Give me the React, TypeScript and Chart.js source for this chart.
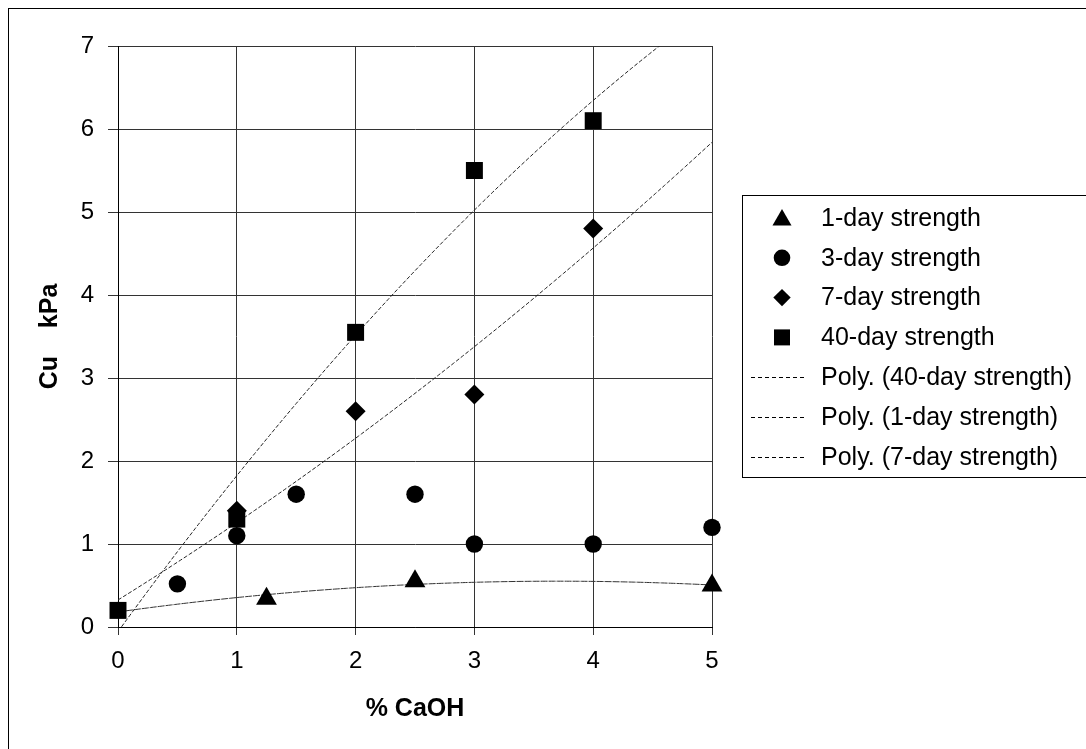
import React, { useEffect, useRef } from 'react';
import { Chart, registerables } from 'chart.js';

Chart.register(...registerables);

const X_MIN = 0;
const X_MAX = 5;
const Y_MIN = 0;
const Y_MAX = 7;
const X_TITLE = '% CaOH';
const Y_TITLE = 'Cu    kPa';

// 1-day strength
const day1X = [0, 1.25, 2.5, 5];
const day1Y = [0.2, 0.34, 0.55, 0.5];
// 3-day strength
const day3X = [0.5, 1, 1.5, 2.5, 3, 4, 5];
const day3Y = [0.52, 1.1, 1.6, 1.6, 1.0, 1.0, 1.2];
// 7-day strength
const day7X = [0, 1, 2, 3, 4];
const day7Y = [0.2, 1.4, 2.6, 2.8, 4.8];
// 40-day strength
const day40X = [0, 1, 2, 3, 4];
const day40Y = [0.2, 1.3, 3.55, 5.5, 6.1];

const LEGEND_LABELS = [
  '1-day strength',
  '3-day strength',
  '7-day strength',
  '40-day strength',
  'Poly. (40-day strength)',
  'Poly. (1-day strength)',
  'Poly. (7-day strength)',
];
const LEGEND_KINDS = ['triangle', 'circle', 'rectRot', 'rect', 'dash', 'dash', 'dash'];

const FONT = '"Liberation Sans", Arial, Helvetica, sans-serif';

function pts(xs: number[], ys: number[]) {
  return xs.map((x, i) => ({ x, y: ys[i] }));
}

// least-squares polynomial (order 2) fit, like an Excel "Poly." trendline
function polyFit(xs: number[], ys: number[], deg: number): number[] {
  const n = deg + 1;
  const A: number[][] = [];
  for (let r = 0; r < n; r++) {
    const row: number[] = [];
    for (let c = 0; c < n; c++) {
      let s = 0;
      for (const x of xs) s += Math.pow(x, r + c);
      row.push(s);
    }
    let b = 0;
    xs.forEach((x, i) => (b += Math.pow(x, r) * ys[i]));
    row.push(b);
    A.push(row);
  }
  for (let i = 0; i < n; i++) {
    let p = i;
    for (let k = i + 1; k < n; k++) if (Math.abs(A[k][i]) > Math.abs(A[p][i])) p = k;
    [A[i], A[p]] = [A[p], A[i]];
    for (let k = i + 1; k < n; k++) {
      const f = A[k][i] / A[i][i];
      for (let c = i; c <= n; c++) A[k][c] -= f * A[i][c];
    }
  }
  const coef = new Array(n).fill(0);
  for (let i = n - 1; i >= 0; i--) {
    let s = A[i][n];
    for (let c = i + 1; c < n; c++) s -= A[i][c] * coef[c];
    coef[i] = s / A[i][i];
  }
  return coef;
}

function trend(xs: number[], ys: number[]) {
  const c = polyFit(xs, ys, 2);
  const out: { x: number; y: number }[] = [];
  for (let i = 0; i <= 200; i++) {
    const x = X_MIN + ((X_MAX - X_MIN) * i) / 200;
    out.push({ x, y: c[0] + c[1] * x + c[2] * x * x });
  }
  return out;
}

function drawMarker(ctx: CanvasRenderingContext2D, kind: string, x: number, y: number) {
  ctx.save();
  ctx.fillStyle = '#000';
  ctx.strokeStyle = '#000';
  ctx.beginPath();
  if (kind === 'triangle') {
    const r = 11;
    for (let k = 0; k < 3; k++) {
      const a = (k * 2 * Math.PI) / 3;
      const px = x + Math.sin(a) * r;
      const py = y - Math.cos(a) * r + 2;
      if (k === 0) ctx.moveTo(px, py);
      else ctx.lineTo(px, py);
    }
    ctx.closePath();
    ctx.fill();
  } else if (kind === 'circle') {
    ctx.arc(x, y, 8.3, 0, Math.PI * 2);
    ctx.fill();
  } else if (kind === 'rectRot') {
    const r = 8.7;
    ctx.moveTo(x, y - r);
    ctx.lineTo(x + r, y);
    ctx.lineTo(x, y + r);
    ctx.lineTo(x - r, y);
    ctx.closePath();
    ctx.fill();
  } else if (kind === 'rect') {
    ctx.rect(x - 8, y - 8, 16, 16);
    ctx.fill();
  } else {
    ctx.lineWidth = 1;
    ctx.setLineDash([4, 3]);
    ctx.moveTo(751, Math.round(y) + 0.5);
    ctx.lineTo(807, Math.round(y) + 0.5);
    ctx.stroke();
  }
  ctx.restore();
}

const legendPlugin = {
  id: 'boxLegend',
  afterDraw(chart: any) {
    const ctx: CanvasRenderingContext2D = chart.ctx;
    ctx.save();
    ctx.strokeStyle = '#000';
    ctx.lineWidth = 1;
    ctx.strokeRect(742.5, 195.5, 420, 282);
    ctx.font = `25px ${FONT}`;
    ctx.textBaseline = 'middle';
    ctx.textAlign = 'left';
    ctx.fillStyle = '#000';
    LEGEND_LABELS.forEach((label, i) => {
      const y = 218 + i * 39.8;
      drawMarker(ctx, LEGEND_KINDS[i], 782, y);
      ctx.fillText(label, 821, y + 1);
    });
    ctx.restore();
  },
};

const frameBg = {
  id: 'frameBg',
  beforeDraw(chart: any) {
    const ctx: CanvasRenderingContext2D = chart.ctx;
    ctx.save();
    ctx.fillStyle = '#fff';
    ctx.fillRect(0, 0, chart.width, chart.height);
    ctx.strokeStyle = '#000';
    ctx.lineWidth = 1;
    ctx.strokeRect(8.5, 8.5, chart.width + 20, chart.height + 20);
    ctx.restore();
  },
};

// markers sitting exactly under the 40-day square at x = 0 are kept inside it
const underSquare = (size: number, inner: number) => (c: any) =>
  c.raw && c.raw.x === 0 ? inner : size;

export default function App() {
  const ref = useRef<HTMLCanvasElement>(null);

  useEffect(() => {
    if (!ref.current) return;
    const markerBase = { backgroundColor: '#000', borderColor: '#000', borderWidth: 0, showLine: false, clip: false };
    const trendBase = {
      showLine: true,
      pointRadius: 0,
      borderColor: '#222',
      borderWidth: 1,
      borderDash: [4, 2],
      fill: false,
      tension: 0,
    };
    const chart = new Chart(ref.current, {
      type: 'scatter',
      data: {
        datasets: [
          { ...markerBase, label: '40-day strength', data: pts(day40X, day40Y), pointStyle: 'rect', pointRadius: 12, order: 0 },
          { ...markerBase, label: '7-day strength', data: pts(day7X, day7Y), pointStyle: 'rectRot', pointRadius: underSquare(10, 8), order: 1 },
          { ...markerBase, label: '3-day strength', data: pts(day3X, day3Y), pointStyle: 'circle', pointRadius: 8.7, order: 2 },
          { ...markerBase, label: '1-day strength', data: pts(day1X, day1Y), pointStyle: 'triangle', pointRadius: underSquare(12, 9), order: 3 },
          { ...trendBase, label: 'Poly. (40-day strength)', data: trend(day40X, day40Y), order: 4 },
          { ...trendBase, label: 'Poly. (1-day strength)', data: trend(day1X, day1Y), borderDash: [7, 1], borderColor: '#333', order: 5 },
          { ...trendBase, label: 'Poly. (7-day strength)', data: trend(day7X, day7Y), order: 6 },
        ] as any,
      },
      options: {
        responsive: false,
        animation: false,
        devicePixelRatio: 1,
        layout: { padding: { left: 0, top: 46, right: 374, bottom: 0 } },
        plugins: { legend: { display: false }, tooltip: { enabled: false } },
        scales: {
          x: {
            type: 'linear',
            min: X_MIN,
            max: X_MAX,
            afterFit: (s: any) => {
              s.height = 122;
            },
            ticks: { stepSize: 1, color: '#000', padding: 12, font: { family: FONT, size: 24 } },
            grid: { color: '#333', lineWidth: 1, tickLength: 8, drawTicks: true },
            border: { color: '#000', width: 1 },
            title: {
              display: true,
              text: X_TITLE,
              color: '#000',
              font: { family: FONT, size: 25, weight: 'bold' },
              padding: { top: 0, bottom: 25 },
            },
          },
          y: {
            type: 'linear',
            min: Y_MIN,
            max: Y_MAX,
            afterFit: (s: any) => {
              s.width = 118;
            },
            ticks: { stepSize: 1, color: '#000', padding: 14, font: { family: FONT, size: 24 } },
            grid: { color: '#333', lineWidth: 1, tickLength: 10, drawTicks: true },
            border: { color: '#000', width: 1 },
            title: {
              display: true,
              text: Y_TITLE,
              color: '#000',
              font: { family: FONT, size: 25, weight: 'bold' },
              padding: { top: 35, bottom: 0 },
            },
          },
        },
      },
      plugins: [frameBg, legendPlugin],
    });
    return () => chart.destroy();
  }, []);

  return (
    <div style={{ position: 'fixed', left: 0, top: 0, width: 1086, height: 749, background: '#fff' }}>
      <canvas ref={ref} width={1086} height={749} style={{ display: 'block', width: 1086, height: 749 }} />
    </div>
  );
}
